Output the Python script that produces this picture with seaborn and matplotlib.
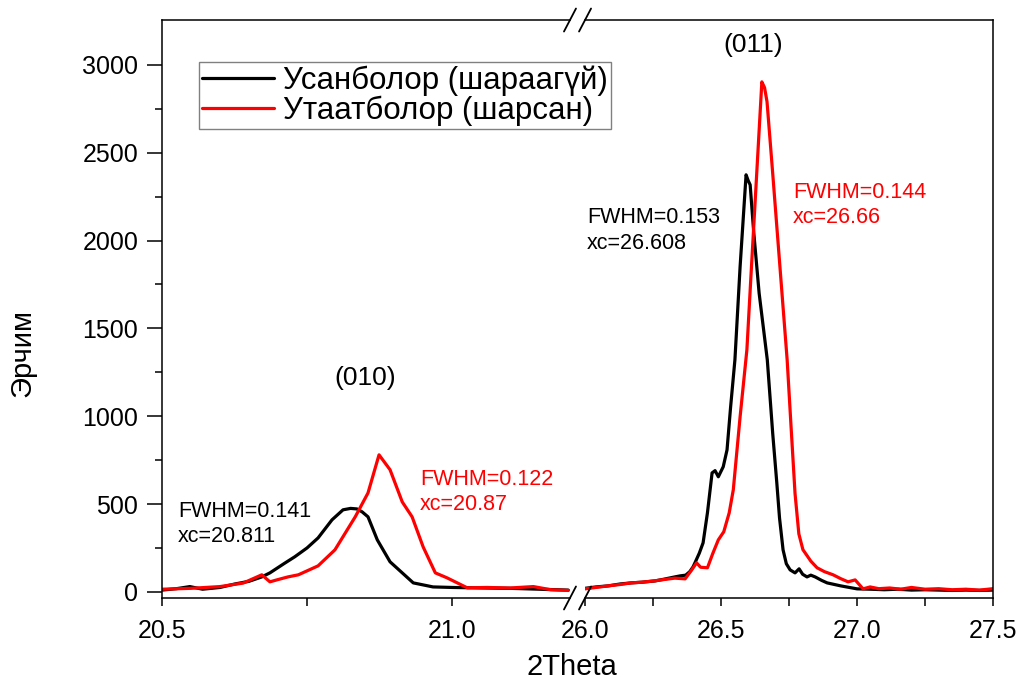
import pandas as pd
import matplotlib.pyplot as plt
import seaborn as sns

# values
label_black = "Усанболор (шараагүй)"
label_red = "Утаатболор (шарсан)"

# left part of the broken axis, 20.5 - 21.2
x_black_1 = [20.50, 20.525, 20.548, 20.57, 20.60, 20.626, 20.65, 20.672, 20.686, 20.71,
             20.729, 20.75, 20.769, 20.793, 20.812, 20.825, 20.836, 20.845, 20.855, 20.871,
             20.893, 20.914, 20.933, 20.967, 21.0, 21.05, 21.10, 21.15, 21.20]
y_black_1 = [10, 18, 30, 15, 25, 45, 60, 85, 108, 160,
             200, 250, 307, 410, 467, 475, 472, 455, 427, 296,
             171, 108, 51, 28, 25, 22, 20, 15, 10]
x_red_1 = [20.50, 20.55, 20.60, 20.64, 20.672, 20.686, 20.70, 20.717, 20.735, 20.769,
           20.798, 20.833, 20.855, 20.874, 20.893, 20.914, 20.931, 20.95, 20.971, 20.991,
           21.026, 21.06, 21.10, 21.14, 21.17, 21.20]
y_red_1 = [15, 20, 30, 50, 97, 57, 70, 85, 97, 148,
           239, 427, 563, 780, 695, 512, 427, 256, 108, 80,
           23, 25, 22, 30, 12, 8]

# right part, 26.0 - 27.5
x_black_2 = [26.0, 26.04, 26.085, 26.13, 26.17, 26.21, 26.257, 26.29, 26.33, 26.35,
             26.37, 26.385, 26.397, 26.404, 26.42, 26.434, 26.45, 26.467, 26.478, 26.49,
             26.508, 26.522, 26.535, 26.551, 26.57, 26.592, 26.60, 26.607, 26.62, 26.64,
             26.67, 26.69, 26.705, 26.715, 26.728, 26.74, 26.754, 26.772, 26.787, 26.80,
             26.816, 26.83, 26.846, 26.87, 26.89, 26.94, 27.0, 27.05, 27.1, 27.15,
             27.2, 27.25, 27.3, 27.35, 27.4, 27.45, 27.5]
y_black_2 = [20, 28, 34, 45, 51, 55, 62, 72, 85, 91,
             95, 115, 142, 165, 220, 279, 450, 677, 690, 655,
             712, 808, 1050, 1321, 1850, 2374, 2340, 2317, 2050, 1700,
             1321, 900, 620, 420, 239, 160, 125, 108, 131, 100,
             85, 95, 85, 65, 51, 34, 17, 15, 12, 15,
             10, 12, 10, 8, 10, 8, 10]
x_red_2 = [26.0, 26.04, 26.085, 26.13, 26.17, 26.21, 26.257, 26.29, 26.33, 26.368,
           26.39, 26.41, 26.425, 26.45, 26.47, 26.49, 26.51, 26.53, 26.545, 26.57,
           26.595, 26.61, 26.63, 26.65, 26.66, 26.669, 26.69, 26.71, 26.725, 26.743,
           26.757, 26.772, 26.786, 26.801, 26.83, 26.853, 26.88, 26.912, 26.94, 26.967,
           26.993, 27.022, 27.048, 27.08, 27.12, 27.16, 27.2, 27.25, 27.3, 27.35,
           27.4, 27.45, 27.5]
y_red_2 = [17, 25, 34, 42, 51, 55, 63, 70, 78, 74,
           120, 165, 140, 137, 220, 296, 342, 450, 581, 996,
           1378, 1800, 2350, 2903, 2870, 2790, 2380, 1980, 1680, 1321,
           950, 560, 330, 240, 175, 137, 115, 97, 75, 57,
           68, 17, 28, 18, 22, 15, 25, 15, 18, 12,
           15, 10, 18]

# peak notes: (axis, x, y, text, colour)
notes = [
    (0, 20.528, 427, "FWHM=0.141", "black"),
    (0, 20.528, 285, "xc=20.811", "black"),
    (0, 20.945, 609, "FWHM=0.122", "red"),
    (0, 20.945, 467, "xc=20.87", "red"),
    (1, 26.007, 2101, "FWHM=0.153", "black"),
    (1, 26.007, 1953, "xc=26.608", "black"),
    (1, 26.765, 2243, "FWHM=0.144", "red"),
    (1, 26.765, 2101, "xc=26.66", "red"),
]
peaks = [(0, 20.85, 1218, "(010)"), (1, 26.618, 3114, "(011)")]


sns.set_style("ticks")
plt.rcParams["font.family"] = ["Liberation Sans", "DejaVu Sans"]
plt.rcParams.update({"text.color": "black", "axes.labelcolor": "black",
                     "xtick.color": "black", "ytick.color": "black",
                     "axes.edgecolor": "black"})

fig = plt.figure(figsize=(10.18, 6.79), dpi=100)
ax1 = fig.add_axes([0.1591, 0.1193, 0.4008, 0.8512])
ax2 = fig.add_axes([0.5747, 0.1193, 0.4008, 0.8512])

df1 = pd.concat([
    pd.DataFrame({"x": x_black_1, "y": y_black_1, "s": label_black}),
    pd.DataFrame({"x": x_red_1, "y": y_red_1, "s": label_red}),
])
df2 = pd.concat([
    pd.DataFrame({"x": x_black_2, "y": y_black_2, "s": label_black}),
    pd.DataFrame({"x": x_red_2, "y": y_red_2, "s": label_red}),
])
pal = {label_black: "black", label_red: "#ff0000"}
for ax, df in [(ax1, df1), (ax2, df2)]:
    sns.lineplot(data=df, x="x", y="y", hue="s", hue_order=[label_black, label_red],
                 palette=pal, estimator=None, sort=False, lw=2.3, legend=False, ax=ax)
    ax.set_ylim(-35, 3255)
    ax.set_xlabel("")
    ax.set_ylabel("")
    for sp in ax.spines.values():
        sp.set_linewidth(1.1)
        sp.set_color("black")

ax1.set_xlim(20.5, 21.203)
ax2.set_xlim(26.0, 27.5)
ax1.spines["right"].set_visible(False)
ax2.spines["left"].set_visible(False)

ax1.set_xticks([20.5, 21.0])
ax1.set_xticks([20.75], minor=True)
ax2.set_xticks([26.0, 26.5, 27.0, 27.5])
ax2.set_xticks([26.25, 26.75, 27.25], minor=True)
ax1.set_yticks(range(0, 3001, 500))
ax1.set_yticks(range(250, 3001, 500), minor=True)
for ax in (ax1, ax2):
    ax.xaxis.set_major_formatter("{x:.1f}")
    ax.tick_params(axis="x", which="both", direction="out", length=6, width=1.1,
                   labelsize=18, pad=9, colors="black")
ax1.tick_params(axis="y", which="major", direction="out", length=11, width=1.1,
                labelsize=18, pad=6, colors="black")
ax1.tick_params(axis="y", which="minor", direction="out", length=5, width=1.1,
                colors="black")
ax2.tick_params(axis="y", which="both", left=False, labelleft=False)

# break marks
dx, dy = 6 / 408, 11.5 / 578
for ax, xe in [(ax1, 1), (ax2, 0)]:
    for ye in (0, 1):
        ax.plot([xe - dx, xe + dx], [ye - dy, ye + dy], color="black", lw=1.3,
                transform=ax.transAxes, clip_on=False)

axes = [ax1, ax2]
for i, x, y, t, c in notes:
    axes[i].text(x, y, t, color=c, fontsize=15.5, ha="left", va="baseline")
for i, x, y, t in peaks:
    axes[i].text(x, y, t, fontsize=19, ha="center", va="center", color="black")

ax1.set_ylabel("Эрчим", fontsize=21, va="center", color="black")
ax1.yaxis.set_label_coords(-0.341, 0.424)
fig.text(572 / 1018, 1 - 667 / 679, "2Theta", fontsize=21, ha="center", va="center",
         color="black")

lines = ax1.get_lines()[:2]
fig.legend(lines, [label_black, label_red], loc="upper left",
           bbox_to_anchor=(199 / 1018, 1 - 62 / 679), fontsize=22.5, frameon=True,
           fancybox=False, edgecolor="#808080", framealpha=1, borderpad=0.1,
           labelspacing=0.0, handlelength=2.3, handletextpad=0.3, borderaxespad=0,
           labelcolor="black")

fig.savefig("out.png", dpi=100)
